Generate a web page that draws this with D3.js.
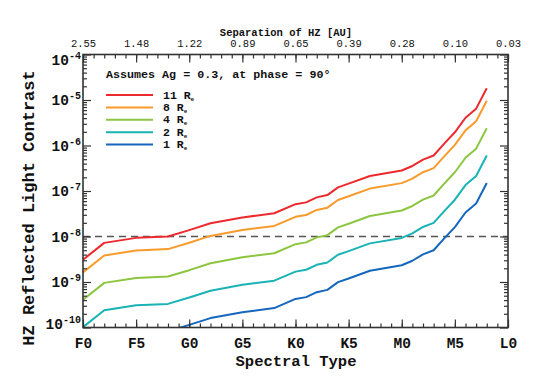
<!DOCTYPE html>
<html>
<head>
<meta charset="utf-8">
<script src="https://cdn.jsdelivr.net/npm/d3@7"></script>
<style>
  html, body { margin: 0; padding: 0; background: #ffffff; }
  #chart text { font-family: 'Liberation Mono', 'DejaVu Sans Mono', monospace; fill: #111111; }
  #chart .tick line { stroke: #333333; stroke-width: 1.2px; }
  #chart .line { fill: none; stroke-width: 2px; stroke-linejoin: round; }
</style>
</head>
<body>
<div id="chart"></div>
<script>
/* ── data ─────────────────────────────────────────────── */
// spectral subtype index: F0 = 0, G0 = 10, K0 = 20, M0 = 30, L0 = 40
const spectralIndex = [0, 2, 5, 8, 10, 12, 15, 18, 20, 21, 22, 23, 24, 25, 27, 30, 31, 32, 33, 34, 35, 36, 37, 38];

const contrast11 = [3.09e-9, 7.24e-9, 9.33e-9, 1.00e-8, 1.38e-8, 1.95e-8, 2.63e-8, 3.24e-8, 5.13e-8, 5.62e-8, 7.24e-8, 8.13e-8,
                    1.20e-7, 1.45e-7, 2.14e-7, 2.82e-7, 3.55e-7, 4.90e-7, 6.03e-7, 1.10e-6, 1.95e-6, 4.07e-6, 6.46e-6, 1.82e-5];
const contrast8  = [1.63e-9, 3.83e-9, 4.93e-9, 5.28e-9, 7.29e-9, 1.03e-8, 1.39e-8, 1.71e-8, 2.71e-8, 2.97e-8, 3.83e-8, 4.30e-8,
                    6.35e-8, 7.64e-8, 1.13e-7, 1.49e-7, 1.87e-7, 2.59e-7, 3.18e-7, 5.79e-7, 1.03e-6, 2.15e-6, 3.41e-6, 9.62e-6];
const contrast4  = [4.08e-10, 9.57e-10, 1.23e-9, 1.32e-9, 1.82e-9, 2.58e-9, 3.48e-9, 4.28e-9, 6.78e-9, 7.43e-9, 9.57e-9, 1.07e-8,
                    1.59e-8, 1.91e-8, 2.82e-8, 3.72e-8, 4.69e-8, 6.47e-8, 7.96e-8, 1.45e-7, 2.58e-7, 5.38e-7, 8.53e-7, 2.40e-6];
const contrast2  = [1.02e-10, 2.39e-10, 3.08e-10, 3.30e-10, 4.56e-10, 6.44e-10, 8.69e-10, 1.07e-9, 1.69e-9, 1.86e-9, 2.39e-9, 2.69e-9,
                    3.97e-9, 4.78e-9, 7.06e-9, 9.31e-9, 1.17e-8, 1.62e-8, 1.99e-8, 3.62e-8, 6.44e-8, 1.35e-7, 2.13e-7, 6.01e-7];
const contrast1  = [2.55e-11, 5.98e-11, 7.71e-11, 8.26e-11, 1.14e-10, 1.61e-10, 2.17e-10, 2.67e-10, 4.24e-10, 4.65e-10, 5.98e-10, 6.71e-10,
                    9.93e-10, 1.19e-9, 1.77e-9, 2.33e-9, 2.93e-9, 4.05e-9, 4.98e-9, 9.06e-9, 1.61e-8, 3.37e-8, 5.33e-8, 1.50e-7];

const seriesLabels = ["11", "8", "4", "2", "1"];
const seriesValues = [contrast11, contrast8, contrast4, contrast2, contrast1];
const seriesColors = ["#ec2a2e", "#f89b2c", "#8cc640", "#19b3b5", "#1567bd"];

const majorTicks  = [0, 5, 10, 15, 20, 25, 30, 35, 40];
const spectralLabels = ["F0", "F5", "G0", "G5", "K0", "K5", "M0", "M5", "L0"];
const separationLabels = ["2.55", "1.48", "1.22", "0.89", "0.65", "0.39", "0.28", "0.10", "0.03"];
const yDecades = [1e-10, 1e-9, 1e-8, 1e-7, 1e-6, 1e-5, 1e-4];
const threshold = 1e-8;

/* ── layout ───────────────────────────────────────────── */
const W = 534, H = 382;
const plot = { left: 83, right: 508, top: 54.5, bottom: 327.5 };
const font = "'Liberation Mono', 'DejaVu Sans Mono', monospace";

const svg = d3.select("#chart").append("svg")
  .attr("width", W).attr("height", H);

const x = d3.scaleLinear().domain([0, 40]).range([plot.left, plot.right]);
const y = d3.scaleLog().domain([1e-10, 1e-4]).range([plot.bottom, plot.top]);

/* ── lines ────────────────────────────────────────────── */
svg.append("clipPath").attr("id", "plot-clip")
  .append("rect")
    .attr("x", plot.left).attr("y", plot.top)
    .attr("width", plot.right - plot.left).attr("height", plot.bottom - plot.top);

const lineGen = d3.line()
  .x(d => x(d[0]))
  .y(d => y(d[1]));

// dashed 1e-8 threshold
svg.append("line")
  .attr("x1", x(0)).attr("x2", x(40))
  .attr("y1", y(threshold)).attr("y2", y(threshold))
  .attr("stroke", "#555555").attr("stroke-width", 1.6)
  .attr("stroke-dasharray", "7,5");

const lineG = svg.append("g").attr("clip-path", "url(#plot-clip)");
seriesValues.slice().reverse().forEach((vals, i) => {
  const k = seriesValues.length - 1 - i;
  lineG.append("path")
    .datum(spectralIndex.map((s, j) => [s, vals[j]]))
    .attr("class", "line")
    .attr("stroke", seriesColors[k])
    .attr("d", lineGen);
});

/* ── axes ─────────────────────────────────────────────── */
const minorY = [];
for (let e = -10; e < -4; e++) for (let m = 2; m <= 9; m++) minorY.push(m * Math.pow(10, e));

function noDomain(g) { g.select(".domain").remove(); }

// bottom
svg.append("g").attr("transform", `translate(0,${plot.bottom})`)
  .call(d3.axisBottom(x).tickValues(d3.range(0, 41)).tickSize(-4).tickFormat(""))
  .call(noDomain);
svg.append("g").attr("transform", `translate(0,${plot.bottom})`)
  .call(d3.axisBottom(x).tickValues(majorTicks).tickSize(-8).tickPadding(10)
    .tickFormat((d, i) => spectralLabels[i]))
  .call(noDomain)
  .call(g => g.selectAll("text").attr("font-size", 14.5).attr("font-weight", "bold")
    .style("font-family", font));

// top
svg.append("g").attr("transform", `translate(0,${plot.top})`)
  .call(d3.axisTop(x).tickValues(d3.range(0, 41)).tickSize(-4).tickFormat(""))
  .call(noDomain);
svg.append("g").attr("transform", `translate(0,${plot.top})`)
  .call(d3.axisTop(x).tickValues(majorTicks).tickSize(-8).tickPadding(8)
    .tickFormat((d, i) => separationLabels[i]))
  .call(noDomain)
  .call(g => g.selectAll("text").attr("font-size", 10.5).style("font-family", font));

// left
svg.append("g").attr("transform", `translate(${plot.left},0)`)
  .call(d3.axisLeft(y).tickValues(minorY).tickSize(-4).tickFormat(""))
  .call(noDomain);
const yAxisG = svg.append("g").attr("transform", `translate(${plot.left},0)`)
  .call(d3.axisLeft(y).tickValues(yDecades).tickSize(-8).tickPadding(2).tickFormat(""))
  .call(noDomain);
yAxisG.selectAll(".tick text")
  .attr("font-size", 14.5).attr("font-weight", "bold").style("font-family", font)
  // end labels are nudged inward, as in the original plot
  .attr("y", d => d === 1e-4 ? 5.5 : d === 1e-10 ? -4 : 0)
  .each(function (d) {
    const t = d3.select(this);
    t.append("tspan").text("10");
    t.append("tspan").attr("dy", -6).attr("font-size", 10)
      .text("-" + Math.round(-Math.log10(d)));
  });

// right
svg.append("g").attr("transform", `translate(${plot.right},0)`)
  .call(d3.axisRight(y).tickValues(minorY).tickSize(-4).tickFormat(""))
  .call(noDomain);
svg.append("g").attr("transform", `translate(${plot.right},0)`)
  .call(d3.axisRight(y).tickValues(yDecades).tickSize(-8).tickFormat(""))
  .call(noDomain);

// frame
svg.append("rect")
  .attr("x", plot.left).attr("y", plot.top)
  .attr("width", plot.right - plot.left).attr("height", plot.bottom - plot.top)
  .attr("fill", "none").attr("stroke", "#333333").attr("stroke-width", 1.6);

/* ── titles ───────────────────────────────────────────── */
svg.append("text")
  .attr("x", 296).attr("y", 366).attr("text-anchor", "middle")
  .attr("font-size", 15.5).attr("font-weight", "bold")
  .text("Spectral Type");

svg.append("text")
  .attr("x", 286).attr("y", 36).attr("text-anchor", "middle")
  .attr("font-size", 10.5).attr("font-weight", "bold")
  .text("Separation of HZ [AU]");

svg.append("text")
  .attr("transform", `translate(34,${(plot.top + plot.bottom) / 2 + 17}) rotate(-90)`)
  .attr("text-anchor", "middle")
  .attr("font-size", 17).attr("font-weight", "bold")
  .text("HZ Reflected Light Contrast");

/* ── legend ───────────────────────────────────────────── */
svg.append("text")
  .attr("x", 106).attr("y", 78)
  .attr("font-size", 11.7).attr("font-weight", "bold")
  .text("Assumes Ag = 0.3, at phase = 90°");

const legend = svg.append("g");
seriesLabels.forEach((lab, i) => {
  const ly = 95 + i * 12.4;
  legend.append("line")
    .attr("x1", 106).attr("x2", 153).attr("y1", ly).attr("y2", ly)
    .attr("stroke", seriesColors[i]).attr("stroke-width", 2);
  const t = legend.append("text")
    .attr("x", 163).attr("y", ly + 3.5)
    .attr("font-size", 11.5).attr("font-weight", "bold");
  t.append("tspan").text(lab + " R");
  t.append("tspan").attr("dy", 2).attr("font-size", 6).text("e");
});
</script>
</body>
</html>
